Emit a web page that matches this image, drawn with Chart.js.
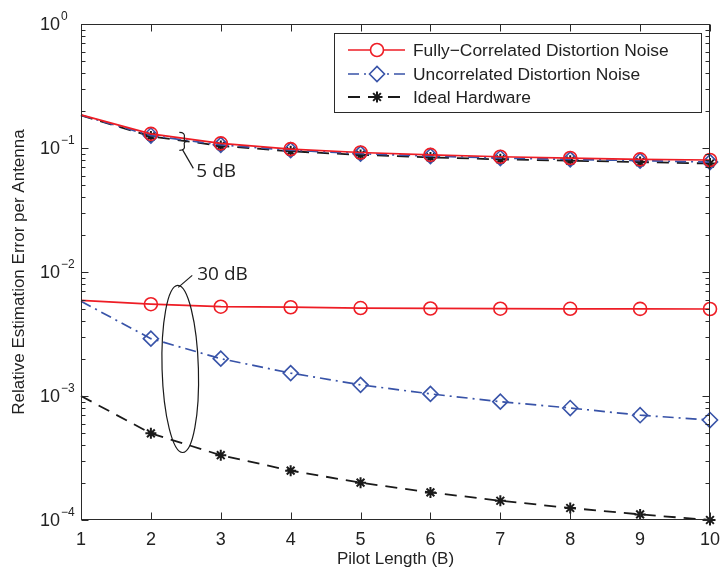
<!DOCTYPE html>
<html>
<head>
<meta charset="utf-8">
<script src="https://cdn.jsdelivr.net/npm/chart.js@4/dist/chart.umd.min.js"></script>
<style>
  html, body { margin: 0; padding: 0; background: #fff; }
</style>
</head>
<body>
<canvas id="chart" width="721" height="569"></canvas>
<script>
// Pilot length B on the x axis
const pilotLength = [1, 2, 3, 4, 5, 6, 7, 8, 9, 10];

// 5 dB curves (upper group)
const fullCorr5dB = [0.185, 0.130, 0.109, 0.098, 0.092, 0.088, 0.085, 0.083, 0.081, 0.080];
const uncorr5dB   = [0.184, 0.126, 0.106, 0.096, 0.090, 0.086, 0.083, 0.081, 0.079, 0.077];
const ideal5dB    = [0.183, 0.124, 0.104, 0.094, 0.088, 0.084, 0.081, 0.079, 0.077, 0.075];

// 30 dB curves (lower group)
const fullCorr30dB = [0.0059, 0.0055, 0.00525, 0.0052, 0.00512, 0.00508, 0.00506, 0.00505, 0.00504, 0.00503];
const uncorr30dB   = [0.0058, 0.0029, 0.0020, 0.00153, 0.00123, 0.00104, 0.00090, 0.00080, 0.00070, 0.00064];
const ideal30dB    = [0.0010, 0.00050, 0.000333, 0.00025, 0.00020, 0.000167, 0.000143, 0.000125, 0.000111, 0.00010];

const seriesNames = ['Fully\u2212Correlated Distortion Noise', 'Uncorrelated Distortion Noise', 'Ideal Hardware'];

// tick labels
const xTickValues = [1, 2, 3, 4, 5, 6, 7, 8, 9, 10];
const yTickValues = [1, 0.1, 0.01, 0.001, 0.0001];
const yTickExponents = ['0', '\u22121', '\u22122', '\u22123', '\u22124'];

const xTitle = 'Pilot Length (B)';
const yTitle = 'Relative Estimation Error per Antenna';

const FONT = '"Liberation Sans", Arial, Helvetica, sans-serif';
const NOTE_FONT = '"Open Sans", "Noto Sans", sans-serif';
const INK = '#222';

const styles = [
  { color: '#ee1d25', dash: [], point: 'circle', radius: 6.5, width: 1.7, pw: 1.6 },
  { color: '#3853a8', dash: [11, 5, 2, 5], point: 'rectRot', radius: 7.5, width: 1.7, pw: 1.6 },
  { color: '#1a1a1a', dash: [12, 8], point: 'star', radius: 5.5, width: 1.8, pw: 2 }
];

function makeDataset(values, i) {
  const s = styles[i];
  return {
    label: seriesNames[i],
    data: values.map((v, k) => ({ x: pilotLength[k], y: v })),
    borderColor: s.color,
    backgroundColor: 'rgba(0,0,0,0)',
    borderWidth: s.width,
    borderDash: s.dash,
    pointStyle: s.point,
    pointRadius: pilotLength.map(b => (b === 1 ? 0 : s.radius)),
    pointHoverRadius: 0,
    pointBorderColor: s.color,
    pointBackgroundColor: 'rgba(0,0,0,0)',
    pointBorderWidth: s.pw,
    tension: 0,
    fill: false,
    clip: false
  };
}

// frame, inward ticks and y tick labels (10 with superscript)
const axisFrame = {
  id: 'axisFrame',
  afterDraw(chart) {
    const { ctx, chartArea: a, scales: { x, y } } = chart;
    const seg = (x1, y1, x2, y2) => { ctx.beginPath(); ctx.moveTo(x1, y1); ctx.lineTo(x2, y2); ctx.stroke(); };
    ctx.save();
    ctx.strokeStyle = '#2a2a2a';
    ctx.lineWidth = 1;
    ctx.setLineDash([]);
    const L = a.left + 0.5, R = a.right - 0.5, T = a.top + 0.5, B = a.bottom - 0.5;
    ctx.strokeRect(L, T, R - L, B - T);

    xTickValues.forEach(v => {
      const px = Math.round(x.getPixelForValue(v)) + 0.5;
      seg(px, B, px, B - 7);
      seg(px, T, px, T + 7);
    });

    for (let e = -4; e <= 0; e++) {
      const py = Math.round(y.getPixelForValue(Math.pow(10, e))) + 0.5;
      seg(L, py, L + 7, py);
      seg(R, py, R - 7, py);
      if (e === 0) continue;
      for (let m = 2; m <= 9; m++) {
        const pm = Math.round(y.getPixelForValue(m * Math.pow(10, e))) + 0.5;
        seg(L, pm, L + 4, pm);
        seg(R, pm, R - 4, pm);
      }
    }

    ctx.fillStyle = INK;
    ctx.textBaseline = 'middle';
    yTickValues.forEach((v, i) => {
      const py = y.getPixelForValue(v);
      ctx.font = '18px ' + FONT;
      ctx.textAlign = 'right';
      ctx.fillText('10', a.left - 21, py + 1);
      ctx.font = '12px ' + FONT;
      ctx.textAlign = 'left';
      ctx.fillText(yTickExponents[i], a.left - 20, py - 7);
    });
    ctx.restore();
  }
};

// "5 dB" brace and "30 dB" ellipse, anchored in data coordinates
const groupNotes = {
  id: 'groupNotes',
  afterDatasetsDraw(chart) {
    const { ctx, scales: { x, y } } = chart;
    ctx.save();
    ctx.strokeStyle = '#1a1a1a';
    ctx.fillStyle = INK;
    ctx.lineWidth = 1.2;
    ctx.setLineDash([]);

    // 5 dB brace
    const bx = x.getPixelForValue(2.45), by = y.getPixelForValue(0.113);
    ctx.beginPath();
    ctx.moveTo(bx - 3, by - 9);
    ctx.quadraticCurveTo(bx + 3, by - 9, bx + 2, by - 4);
    ctx.quadraticCurveTo(bx + 1, by, bx + 5, by);
    ctx.quadraticCurveTo(bx + 1, by, bx + 2, by + 4);
    ctx.quadraticCurveTo(bx + 3, by + 9, bx - 3, by + 9);
    ctx.stroke();
    ctx.beginPath();
    ctx.moveTo(bx, by + 8);
    ctx.lineTo(bx + 11, by + 27);
    ctx.stroke();
    ctx.font = '19px ' + NOTE_FONT;
    ctx.textAlign = 'left';
    ctx.textBaseline = 'middle';
    ctx.fillText('5 dB', bx + 14, by + 30);

    // 30 dB ellipse
    const cx = x.getPixelForValue(2.42);
    const top = y.getPixelForValue(7.8e-3), bot = y.getPixelForValue(3.5e-4);
    const rx = x.getPixelForValue(2.42 + 0.26) - cx;
    const cy = (top + bot) / 2, ry = (bot - top) / 2;
    ctx.beginPath();
    ctx.ellipse(cx, cy, rx, ry, -0.03, 0, Math.PI * 2);
    ctx.stroke();
    ctx.beginPath();
    ctx.moveTo(cx - 2, top + 2);
    ctx.lineTo(cx + 12, top - 10);
    ctx.stroke();
    ctx.fillText('30 dB', cx + 17, top - 11);
    ctx.restore();
  }
};

// boxed legend in the upper right, built from the first three datasets
const boxLegend = {
  id: 'boxLegend',
  afterDraw(chart) {
    const { ctx } = chart;
    const box = { left: 334, top: 33, width: 367, height: 79 };
    const rows = [50, 74, 97];
    ctx.save();
    ctx.fillStyle = '#fff';
    ctx.fillRect(box.left, box.top, box.width, box.height);
    ctx.strokeStyle = '#2a2a2a';
    ctx.lineWidth = 1;
    ctx.setLineDash([]);
    ctx.strokeRect(box.left + 0.5, box.top + 0.5, box.width, box.height);

    chart.data.datasets.slice(0, 3).forEach((ds, i) => {
      const ry = rows[i];
      ctx.strokeStyle = ds.borderColor;
      ctx.lineWidth = ds.borderWidth;
      ctx.setLineDash(ds.borderDash);
      ctx.beginPath();
      ctx.moveTo(348, ry);
      ctx.lineTo(405, ry);
      ctx.stroke();
      ctx.setLineDash([]);
      ctx.fillStyle = '#fff';
      ctx.lineWidth = ds.pointBorderWidth;
      Chart.helpers.drawPoint(ctx, {
        pointStyle: ds.pointStyle, rotation: 0,
        radius: styles[i].radius, borderWidth: ds.pointBorderWidth
      }, 377, ry);
      ctx.fillStyle = INK;
      ctx.font = '17.4px ' + FONT;
      ctx.textAlign = 'left';
      ctx.textBaseline = 'middle';
      ctx.fillText(ds.label, 413, ry + 1);
    });
    ctx.restore();
  }
};

new Chart(document.getElementById('chart'), {
  type: 'line',
  data: {
    datasets: [
      makeDataset(fullCorr5dB, 0),
      makeDataset(uncorr5dB, 1),
      makeDataset(ideal5dB, 2),
      makeDataset(fullCorr30dB, 0),
      makeDataset(uncorr30dB, 1),
      makeDataset(ideal30dB, 2)
    ]
  },
  options: {
    responsive: false,
    animation: false,
    events: [],
    layout: { padding: { top: 24, right: 11, left: 0, bottom: 0 } },
    plugins: {
      legend: { display: false },
      tooltip: { enabled: false }
    },
    scales: {
      x: {
        type: 'linear',
        min: 1,
        max: 10,
        grid: { display: false, drawTicks: false },
        border: { display: false },
        afterBuildTicks: s => { s.ticks = xTickValues.map(v => ({ value: v })); },
        afterFit: s => { s.height = 49; s.paddingLeft = 0; s.paddingRight = 0; },
        ticks: { color: INK, font: { family: FONT, size: 18 }, padding: 9, maxRotation: 0 },
        title: { display: true, text: xTitle, color: INK, font: { family: FONT, size: 17 }, padding: { top: 0, bottom: -1 } }
      },
      y: {
        type: 'logarithmic',
        min: 1e-4,
        max: 1,
        grid: { display: false, drawTicks: false },
        border: { display: false },
        afterBuildTicks: s => { s.ticks = yTickValues.map(v => ({ value: v })); },
        afterFit: s => { s.width = 81; },
        ticks: { display: false },
        title: { display: true, text: yTitle, color: INK, font: { family: FONT, size: 17 }, padding: { top: 9, bottom: 0 } }
      }
    }
  },
  plugins: [groupNotes, axisFrame, boxLegend]
});
</script>
</body>
</html>
